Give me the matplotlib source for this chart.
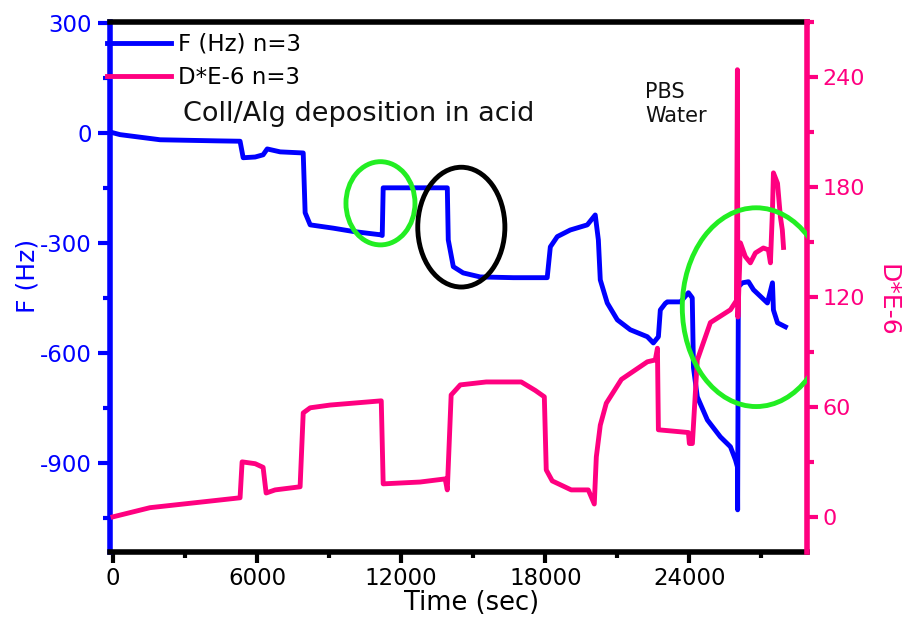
import numpy as np
import matplotlib
matplotlib.use("Agg")
import matplotlib.pyplot as plt
from matplotlib.patches import Ellipse
from matplotlib.lines import Line2D
from matplotlib.ticker import MultipleLocator

# =========================================
# DATA
# =========================================
t_f = [0, 290, 1960, 4330, 5290, 5420, 5920, 6250, 6420, 6960, 7920, 8000,
       8210, 9170, 10000, 11125, 11210, 11250, 13920, 13960, 14170, 14580,
       15290, 16670, 18080, 18210, 18500, 19040, 19750, 20080, 20210, 20290,
       20580, 21000, 21540, 22250, 22500, 22710, 22790, 23000, 23080, 23630,
       23960, 24120, 24170, 24330, 24750, 25290, 25710, 25920, 26000, 26010,
       26040, 26210, 26460, 26670, 27250, 27460, 27500, 27670, 28000]
f_hz = [0, -5, -19, -22, -23, -68, -66, -60, -44, -52, -55, -218,
        -251, -260, -269, -278, -280, -150, -150, -292, -365, -382,
        -393, -395, -395, -311, -283, -265, -251, -224, -292, -401,
        -464, -510, -537, -556, -573, -556, -483, -465, -461, -461,
        -436, -450, -640, -720, -783, -829, -856, -892, -911, -1028,
        -420, -409, -406, -428, -464, -409, -483, -518, -529]

t_d = [0, 1540, 3625, 5290, 5375, 5920, 6250, 6375, 6750, 7790, 7920, 8210,
       9040, 11170, 11250, 12790, 13830, 13920, 14080, 14460, 15540, 17000,
       17580, 17960, 18040, 18290, 19080, 19790, 20040, 20125, 20290, 20540,
       21170, 22250, 22580, 22670, 22710, 23960, 24000, 24125, 24330, 24875,
       25710, 25960, 26000, 26020, 26125, 26330, 26540, 26750, 27080, 27290,
       27375, 27460, 27500, 27670, 27790, 27870, 27920]
d_val = [0, 5, 8, 10.4, 30, 29, 27, 13, 14.7, 16.4, 56.7, 59.5,
         61, 63.3, 18, 19, 20.7, 14.7, 66.5, 72, 73.6, 73.6,
         69, 65.5, 25.6, 19.6, 14.7, 14.7, 7, 32.7, 50, 62,
         75, 84.6, 85.6, 92, 47.5, 46, 40, 40, 85.6, 106,
         113, 118, 244, 109, 149.5, 142, 138.6, 144, 146.7, 145.7,
         138.6, 167.5, 187.7, 182, 163.7, 156.6, 147]

f_ticks = [-900, -600, -300, 0, 300]
d_ticks = [0, 60, 120, 180, 240]
t_ticks = [0, 6000, 12000, 18000, 24000]

# highlight rings (axes fraction: cx, cy, w, h, colour)
rings = [
    (0.388, 0.658, 0.099, 0.157, "#22ee22"),
    (0.504, 0.613, 0.125, 0.226, "black"),
    (0.927, 0.462, 0.212, 0.375, "#22ee22"),
]

BLUE = "#0000ff"
PINK = "#ff0080"

# =========================================
# PLOT
# =========================================
plt.rcParams["font.family"] = "DejaVu Sans"
plt.rcParams["axes.unicode_minus"] = False

fig = plt.figure(figsize=(9.07, 6.17), dpi=100)
ax = fig.add_axes([0.1213, 0.1053, 0.7685, 0.859])
ax2 = ax.twinx()

ax.plot(t_f, f_hz, color=BLUE, linewidth=3.5, solid_joinstyle="round")
ax2.plot(t_d, d_val, color=PINK, linewidth=3.5, solid_joinstyle="round")

ax.set_xlim(-125, 28900)
ax.set_ylim(-1143, 302)
ax2.set_ylim(-19.2, 270)

ax.set_xticks(t_ticks)
ax.xaxis.set_minor_locator(MultipleLocator(3000))
ax.set_yticks(f_ticks)
ax.yaxis.set_minor_locator(MultipleLocator(150))
ax2.set_yticks(d_ticks)
ax2.yaxis.set_minor_locator(MultipleLocator(30))

# spines
for s in ["top", "bottom"]:
    ax.spines[s].set_linewidth(4)
    ax.spines[s].set_color("black")
ax.spines["left"].set_linewidth(4)
ax.spines["left"].set_color(BLUE)
ax.spines["right"].set_visible(False)
for s in ["left", "top", "bottom"]:
    ax2.spines[s].set_visible(False)
ax2.spines["right"].set_linewidth(4)
ax2.spines["right"].set_color(PINK)

ax.tick_params(axis="x", which="major", direction="out", length=8, width=3,
               colors="black", labelsize=16.5, pad=3)
ax.tick_params(axis="x", which="minor", direction="out", length=4.5, width=3,
               colors="black")
ax.tick_params(axis="y", which="major", direction="out", length=9, width=3,
               colors=BLUE, labelsize=16.5, pad=4)
ax.tick_params(axis="y", which="minor", direction="out", length=5, width=3,
               colors=BLUE)
ax2.tick_params(axis="y", which="major", direction="out", length=8, width=3,
                colors=PINK, labelsize=16, pad=3)
ax2.tick_params(axis="y", which="minor", direction="out", length=5, width=3,
                colors=PINK)

ax.set_xlabel("Time (sec)", fontsize=18.5, va="center")
ax.xaxis.set_label_coords(0.519, -0.096)
ax.set_ylabel("F (Hz)", fontsize=18, color=BLUE, va="center")
ax.yaxis.set_label_coords(-0.118, 0.52)
ax2.set_ylabel("D*E-6", fontsize=18, color=PINK, rotation=270, va="center")
ax2.yaxis.set_label_coords(1.116, 0.475)

# annotations
ax2.text(0.105, 0.827, "Coll/Alg deposition in acid", transform=ax2.transAxes,
         fontsize=19.5, va="center", ha="left", color="#111111")
ax2.text(0.768, 0.887, "PBS\nWater", transform=ax2.transAxes,
         fontsize=15, va="top", ha="left", linespacing=1.25, color="#111111")

for cx, cy, w, h, c in rings:
    ax2.add_patch(Ellipse((cx, cy), w, h, transform=ax2.transAxes,
                          fill=False, edgecolor=c, linewidth=3.5, zorder=5))

handles = [
    Line2D([], [], color=BLUE, linewidth=3.5),
    Line2D([], [], color=PINK, linewidth=3.5),
]
leg = ax2.legend(handles, ["F (Hz) n=3", "D*E-6 n=3"], loc="upper left",
                 bbox_to_anchor=(0.118, 0.947), bbox_transform=fig.transFigure,
                 frameon=False, fontsize=16.5, handlelength=2.8,
                 handletextpad=0.3, labelspacing=0.45, borderpad=0,
                 borderaxespad=0)

fig.savefig("out.png", dpi=100)
